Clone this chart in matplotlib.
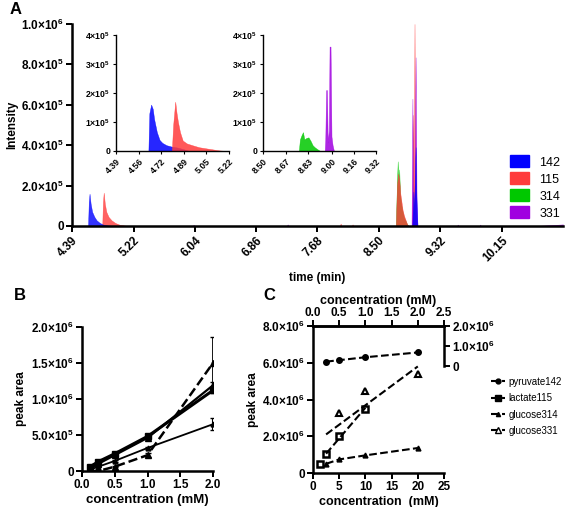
import numpy as np
import matplotlib
matplotlib.use("Agg")
import matplotlib.pyplot as plt
from matplotlib.patches import Patch
from matplotlib.lines import Line2D

plt.rcParams['font.family'] = ['Liberation Sans', 'DejaVu Sans']
plt.rcParams['font.weight'] = 'bold'
plt.rcParams['axes.labelweight'] = 'bold'
plt.rcParams['mathtext.fontset'] = 'custom'
plt.rcParams['mathtext.rm'] = 'Liberation Sans:bold'
plt.rcParams['mathtext.it'] = 'Liberation Sans:bold'
plt.rcParams['mathtext.bf'] = 'Liberation Sans:bold'

# ---- A: chromatogram (time in min, intensity) ----
t142 = [4.39, 4.605, 4.615, 4.625, 4.64, 4.66, 4.69, 4.72, 4.76, 4.80, 4.86, 4.95,
        8.95, 8.965, 8.975, 8.985, 8.995, 9.005, 9.02, 10.97]
i142 = [0, 0, 1.2e5, 1.6e5, 1.1e5, 7e4, 4.5e4, 2.8e4, 1.6e4, 8e3, 3e3, 0,
        0, 1.7e5, 6e4, 2.5e5, 3.9e5, 1.5e5, 0, 0]
t115 = [4.39, 4.795, 4.805, 4.815, 4.83, 4.85, 4.88, 4.92, 4.97, 5.03, 5.10, 5.16,
        7.98, 7.99, 8.00, 8.14, 8.15, 8.16,
        8.73, 8.745, 8.76, 8.775, 8.79, 8.805, 8.82, 8.84, 8.86, 8.88, 8.90,
        8.95, 8.96, 8.97, 8.98, 8.99, 9.00, 10.97]
i115 = [0, 0, 1.2e5, 1.65e5, 1.1e5, 7e4, 4.5e4, 2.8e4, 1.5e4, 6e3, 2e3, 0,
        0, 1.2e4, 0, 0, 8e3, 0,
        0, 2.0e5, 2.6e5, 2.3e5, 1.6e5, 1.2e5, 8e4, 5e4, 3e4, 1e4, 0,
        0, 5.5e5, 1.5e5, 1.0e6, 2e5, 0, 0]
t314 = [8.73, 8.745, 8.755, 8.765, 8.775, 8.785, 8.80, 8.82, 8.84, 8.86, 8.88, 8.90,
        8.96, 8.975, 8.99]
i314 = [0, 2.2e5, 3.2e5, 1.8e5, 2.8e5, 1.6e5, 1.1e5, 7e4, 4e4, 2.5e4, 8e3, 0,
        0, 1.2e5, 0]
t331 = [6.01, 6.02, 6.03, 7.27, 7.28, 7.29, 8.94, 8.952, 8.96, 8.97, 8.982, 8.995,
        9.008, 9.02, 9.55, 9.56, 9.57, 9.85, 9.86, 9.87, 10.6, 10.97]
i331 = [0, 6e3, 0, 0, 8e3, 0, 0, 6.3e5, 1e5, 5e4, 2e5, 8.35e5,
        1e5, 0, 0, 7e3, 0, 0, 7e3, 0, 0, 8e3]

# insets
ti142 = [4.39, 4.628, 4.635, 4.648, 4.66, 4.67, 4.69, 4.71, 4.73, 4.76, 4.80, 4.84, 4.88, 4.93, 5.22]
ii142 = [0, 0, 1.3e5, 1.6e5, 1.45e5, 1.1e5, 6.5e4, 3.8e4, 2.8e4, 2e4, 1.5e4, 1.2e4, 7e3, 0, 0]
ti115 = [4.39, 4.80, 4.81, 4.825, 4.835, 4.845, 4.86, 4.88, 4.91, 4.95, 5.0, 5.08, 5.15, 5.2, 5.22]
ii115 = [0, 0, 9e4, 1.7e5, 1.3e5, 1.0e5, 6.5e4, 3.6e4, 2.6e4, 2e4, 1.3e4, 7e3, 2e3, 0, 0]
ti314 = [8.5, 8.76, 8.768, 8.78, 8.79, 8.80, 8.815, 8.83, 8.845, 8.86, 8.875, 8.895, 8.915, 9.32]
ii314 = [0, 0, 4e4, 5.5e4, 6.5e4, 4e4, 4.5e4, 4.7e4, 3.5e4, 2e4, 1.3e4, 6e3, 0, 0]
ti331 = [8.5, 8.948, 8.952, 8.958, 8.964, 8.97, 8.978, 8.983, 8.99, 8.997, 9.005, 9.015, 9.32]
ii331 = [0, 0, 4e4, 2.1e5, 2.1e5, 3e4, 7e4, 3.6e5, 3.6e5, 5e4, 2e4, 0, 0]

ions = ['142', '115', '314', '331']
colors = ['#0000ff', '#ff3b3b', '#00c800', '#a000e0']

main_ticks = [4.39, 5.22, 6.04, 6.86, 7.68, 8.50, 9.32, 10.15]
inset1_ticks = [4.39, 4.56, 4.72, 4.89, 5.05, 5.22]
inset2_ticks = [8.50, 8.67, 8.83, 9.00, 9.16, 9.32]

# ---- B: calibration ----
conc_b = [0.125, 0.25, 0.5, 1.0, 2.0]
b_lactate = [0.06e6, 0.13e6, 0.24e6, 0.48e6, 1.12e6]
b_lactate_err = [0.01e6, 0.01e6, 0.01e6, 0.02e6, 0.04e6]
b_glc331 = [0.03e6, 0.10e6, 0.22e6, 0.46e6, 1.19e6]
b_glc331_err = [0.01e6, 0.01e6, 0.01e6, 0.02e6, 0.05e6]
b_pyruvate = [0.02e6, 0.06e6, 0.14e6, 0.32e6, 0.65e6]
b_pyruvate_err = [0.01e6, 0.01e6, 0.01e6, 0.02e6, 0.08e6]
b_glc314 = [0.0, 0.0, 0.06e6, 0.22e6, 1.5e6]
b_glc314_err = [0.01e6, 0.01e6, 0.01e6, 0.03e6, 0.36e6]

# ---- C ----
c_pyr_x = [2.5, 5, 10, 20]
c_pyr_y = [6.06e6, 6.14e6, 6.30e6, 6.56e6]
c_lac_x = [1.25, 2.5, 5, 10]
c_lac_y = [0.5e6, 1.05e6, 2.03e6, 3.47e6]
c_lac_line_x = [2.5, 10]
c_lac_line_y = [1.05e6, 3.55e6]
c_g314_x = [2.5, 5, 10, 20]
c_g314_y = [0.5e6, 0.74e6, 0.96e6, 1.36e6]
c_g331_x = [5, 10, 20]
c_g331_y = [3.26e6, 4.48e6, 5.38e6]
c_g331_line_x = [2.5, 20]
c_g331_line_y = [2.1e6, 5.8e6]

W, H = 567, 507
fig = plt.figure(figsize=(W / 100, H / 100), dpi=100)


def box(l, t, r, b):
    return [l / W, 1 - b / H, (r - l) / W, (b - t) / H]


def style(ax, lw=1.8, size=8.5):
    for s in ['top', 'right']:
        ax.spines[s].set_visible(False)
    for s in ['left', 'bottom']:
        ax.spines[s].set_linewidth(lw)
    ax.tick_params(direction='out', width=lw * 0.8, length=4, labelsize=size, pad=2)


def sci(m, e):
    return m + '×10$^{' + e + '}$'


# main A
ax = fig.add_axes(box(72, 24, 563, 226))
order = [2, 1, 3, 0]
traces = [(t142, i142), (t115, i115), (t314, i314), (t331, i331)]
for k in order:
    t, y = traces[k]
    ax.fill_between(t, y, color=colors[k], alpha=0.8, lw=0.3)
ax.set_xlim(4.39, 10.97)
ax.set_ylim(0, 1.0e6)
style(ax)
ax.set_xticks(main_ticks)
ax.set_xticklabels(['%.2f' % v for v in main_ticks], rotation=45, ha='right',
                   rotation_mode='anchor', fontsize=8.5)
ax.set_yticks([0, 2e5, 4e5, 6e5, 8e5, 1e6])
ax.set_yticklabels(['0', sci('2.0', '5'), sci('4.0', '5'), sci('6.0', '5'),
                    sci('8.0', '5'), sci('1.0', '6')], fontsize=8.5)
ax.set_xlabel('time (min)', fontsize=8.5, labelpad=6)
ax.set_ylabel('Intensity', fontsize=8.5, labelpad=2)
ax.legend([Patch(color=c) for c in colors], ions, loc='upper left', frameon=False,
          bbox_to_anchor=(0.88, 0.38), prop={'weight': 'normal', 'size': 9},
          handlelength=1.5, handleheight=1.1, labelspacing=0.3, borderpad=0)

# insets
for pos, data, ticks, lim in [
        (box(116, 35, 229, 151), [(ti142, ii142, colors[0]), (ti115, ii115, colors[1])],
         inset1_ticks, (4.39, 5.22)),
        (box(263, 35, 376, 151), [(ti314, ii314, colors[2]), (ti331, ii331, colors[3])],
         inset2_ticks, (8.50, 9.32))]:
    ins = fig.add_axes(pos)
    for t, y, c in data:
        ins.fill_between(t, y, color=c, alpha=0.85, lw=0.3)
    ins.set_xlim(*lim)
    ins.set_ylim(0, 4e5)
    style(ins, lw=1.0, size=6.5)
    ins.tick_params(length=2)
    ins.set_xticks(ticks)
    ins.set_xticklabels(['%.2f' % v for v in ticks], rotation=45, ha='right',
                        rotation_mode='anchor', fontsize=6.3)
    ins.set_yticks([0, 1e5, 2e5, 3e5, 4e5])
    ins.set_yticklabels(['0', sci('1', '5'), sci('2', '5'), sci('3', '5'), sci('4', '5')],
                        fontsize=6.3)

# B
bx = fig.add_axes(box(82, 327, 213, 471))
bx.errorbar(conc_b, b_lactate, yerr=b_lactate_err, color='k', lw=2.2, marker='s', ms=5, capsize=2)
bx.errorbar(conc_b, b_glc331, yerr=b_glc331_err, color='k', lw=1.6, marker='^', ms=5, capsize=2)
bx.errorbar(conc_b, b_pyruvate, yerr=b_pyruvate_err, color='k', lw=1.3, marker='^', ms=3.5, capsize=2.5,
            elinewidth=1.5)
bx.errorbar(conc_b, b_glc314, yerr=b_glc314_err, color='k', lw=1.8, ls='--', marker='^', ms=5,
            capsize=2.5, elinewidth=2)
bx.set_xlim(0, 2.0)
bx.set_ylim(0, 2.0e6)
style(bx)
bx.set_xticks([0, 0.5, 1.0, 1.5, 2.0])
bx.set_xticklabels(['0.0', '0.5', '1.0', '1.5', '2.0'])
bx.set_yticks([0, 5e5, 1e6, 1.5e6, 2e6])
bx.set_yticklabels(['0', sci('5.0', '5'), sci('1.0', '6'), sci('1.5', '6'), sci('2.0', '6')])
bx.set_xlabel('concentration (mM)', fontsize=9.5, labelpad=2)
bx.set_ylabel('peak area', fontsize=8.5, labelpad=3)

# C
cx = fig.add_axes(box(313, 326, 444, 473))
cx.plot(c_pyr_x, c_pyr_y, color='k', ls='--', lw=1.5, marker='o', ms=4)
cx.plot(c_lac_x, c_lac_y, color='k', ls='none', marker='s', ms=5, mfc='white', mew=1.8)
cx.plot(c_lac_line_x, c_lac_line_y, color='k', ls='--', lw=1.5)
cx.plot(c_g314_x, c_g314_y, color='k', ls='--', lw=1.5, marker='^', ms=3.5)
cx.plot(c_g331_x, c_g331_y, color='k', ls='none', marker='^', ms=5, mfc='white', mew=1.5)
cx.plot(c_g331_line_x, c_g331_line_y, color='k', ls='--', lw=1.5)
cx.set_xlim(0, 25)
cx.set_ylim(0, 8e6)
style(cx)
cx.spines['top'].set_visible(True)
cx.spines['top'].set_linewidth(1.8)
cx.set_xticks([0, 5, 10, 15, 20, 25])
cx.set_xticklabels(['0', '5', '10', '15', '20', '25'])
cx.set_yticks([0, 2e6, 4e6, 6e6, 8e6])
cx.set_yticklabels(['0', sci('2.0', '6'), sci('4.0', '6'), sci('6.0', '6'), sci('8.0', '6')])
cx.set_xlabel('concentration  (mM)', fontsize=9, labelpad=2)
cx.set_ylabel('peak area', fontsize=8.5, labelpad=2)

ctop = cx.twiny()
ctop.set_xlim(0, 2.5)
for s in ['bottom', 'left', 'right']:
    ctop.spines[s].set_visible(False)
ctop.spines['top'].set_linewidth(1.8)
ctop.tick_params(direction='out', width=1.4, length=4, labelsize=8.5, pad=1)
ctop.set_xticks([0, 0.5, 1.0, 1.5, 2.0, 2.5])
ctop.set_xticklabels(['0.0', '0.5', '1.0', '1.5', '2.0', '2.5'])
ctop.set_xlabel('concentration (mM)', fontsize=9, labelpad=2)

cright = cx.twinx()
cright.set_ylim(-5.27e6, 2e6)
for s in ['bottom', 'left', 'top']:
    cright.spines[s].set_visible(False)
cright.spines['right'].set_bounds(0, 2e6)
cright.spines['right'].set_linewidth(1.8)
cright.tick_params(direction='out', width=1.4, length=4, labelsize=8.5, pad=2)
cright.set_yticks([0, 1e6, 2e6])
cright.set_yticklabels(['0', sci('1.0', '6'), sci('2.0', '6')])

handles = [Line2D([], [], color='k', ls='--', lw=1.5, marker='o', ms=3.5),
           Line2D([], [], color='k', ls='--', lw=1.5, marker='s', ms=5),
           Line2D([], [], color='k', ls='--', lw=1.5, marker='^', ms=3),
           Line2D([], [], color='k', ls='--', lw=1.5, marker='^', ms=4.5, mfc='white')]
fig.legend(handles, ['pyruvate142', 'lactate115', 'glucose314', 'glucose331'],
           loc='upper left', bbox_to_anchor=(486 / W, 1 - 372 / H), frameon=False,
           prop={'weight': 'normal', 'size': 7},
           handlelength=1.5, labelspacing=0.65, handletextpad=0.3, borderpad=0)

fig.text(10 / W, 1 - 9 / H, 'A', fontsize=12, fontweight='bold', va='center')
fig.text(14 / W, 1 - 296 / H, 'B', fontsize=12, fontweight='bold', va='center')
fig.text(263 / W, 1 - 296 / H, 'C', fontsize=12, fontweight='bold', va='center')

fig.savefig('out.png', dpi=100)
